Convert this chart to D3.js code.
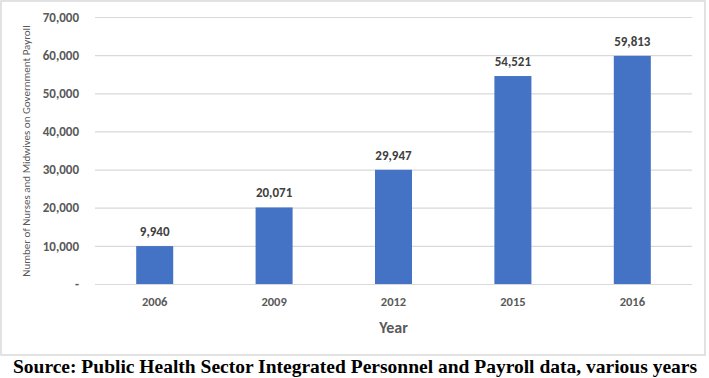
<!DOCTYPE html>
<html>
<head>
<meta charset="utf-8">
<title>Nurses and Midwives</title>
<script src="https://cdnjs.cloudflare.com/ajax/libs/d3/7.8.5/d3.min.js"></script>
<style>
  body { margin: 0; background: #fff; }
  text { font-family: Calibri, Carlito, Lato, "Open Sans", sans-serif; }
</style>
</head>
<body>
<div id="chart"></div>
<script>
var years = ["2006", "2009", "2012", "2015", "2016"];
var nurses = [9940, 20071, 29947, 54521, 59813];
var yTicks = [0, 10000, 20000, 30000, 40000, 50000, 60000, 70000];

var width = 709, height = 378;
var margin = { left: 95, right: 17, top: 17, bottom: 94 };

var svg = d3.select("#chart").append("svg")
    .attr("width", width)
    .attr("height", height);

// frame around chart area
svg.append("rect")
    .attr("x", 1).attr("y", 1)
    .attr("width", 704).attr("height", 354)
    .attr("fill", "none")
    .attr("stroke", "#d9d9d9")
    .attr("stroke-width", 1.5);

var x = d3.scaleBand()
    .domain(years)
    .range([margin.left, width - margin.right])
    .paddingInner(0.69)
    .paddingOuter(0.345);

var y = d3.scaleLinear()
    .domain([0, 70000])
    .range([height - margin.bottom, margin.top]);

var fmt = d3.format(",");

// gridlines + y labels
var yAxis = svg.append("g")
    .attr("transform", "translate(" + margin.left + ",0)")
    .call(d3.axisLeft(y)
        .tickValues(yTicks)
        .tickSize(-(width - margin.left - margin.right))
        .tickPadding(16)
        .tickFormat(function(d) { return d === 0 ? "-" : fmt(d); }));
yAxis.select(".domain").remove();
yAxis.selectAll(".tick line").attr("stroke", "#d9d9d9").attr("stroke-width", 1.2);
yAxis.selectAll(".tick text")
    .attr("fill", "#595959")
    .style("font-size", "13px")
    .style("font-weight", "bold");

// bars
svg.selectAll("rect.bar")
    .data(nurses)
  .enter().append("rect")
    .attr("class", "bar")
    .attr("x", function(d, i) { return x(years[i]); })
    .attr("y", function(d) { return y(d); })
    .attr("width", x.bandwidth())
    .attr("height", function(d) { return y(0) - y(d); })
    .attr("fill", "#4472c4");

// value labels
svg.selectAll("text.val")
    .data(nurses)
  .enter().append("text")
    .attr("class", "val")
    .attr("x", function(d, i) { return x(years[i]) + x.bandwidth() / 2; })
    .attr("y", function(d) { return y(d) - 10; })
    .attr("text-anchor", "middle")
    .attr("fill", "#404040")
    .style("font-size", "13px")
    .style("font-weight", "bold")
    .text(function(d) { return fmt(d); });

// x axis labels
var xAxis = svg.append("g")
    .attr("transform", "translate(0," + y(0) + ")")
    .call(d3.axisBottom(x).tickSize(0).tickPadding(13));
xAxis.select(".domain").remove();
xAxis.selectAll(".tick text")
    .attr("fill", "#595959")
    .style("font-size", "12.5px")
    .style("font-weight", "bold");

// axis titles
svg.append("text")
    .attr("x", (margin.left + width - margin.right) / 2)
    .attr("y", 333)
    .attr("text-anchor", "middle")
    .attr("fill", "#595959")
    .style("font-size", "16px")
    .style("font-weight", "bold")
    .text("Year");

svg.append("text")
    .attr("transform", "translate(30,151) rotate(-90)")
    .attr("text-anchor", "middle")
    .attr("fill", "#595959")
    .style("font-size", "11px")
    .text("Number of Nurses and Midwives on Government Payroll");

// source note
svg.append("text")
    .attr("x", 355)
    .attr("y", 373)
    .attr("text-anchor", "middle")
    .attr("fill", "#000")
    .style("font-family", "'Liberation Serif', 'Times New Roman', serif")
    .style("font-size", "19.5px")
    .style("font-weight", "bold")
    .text("Source: Public Health Sector Integrated Personnel and Payroll data, various years");
</script>
</body>
</html>
